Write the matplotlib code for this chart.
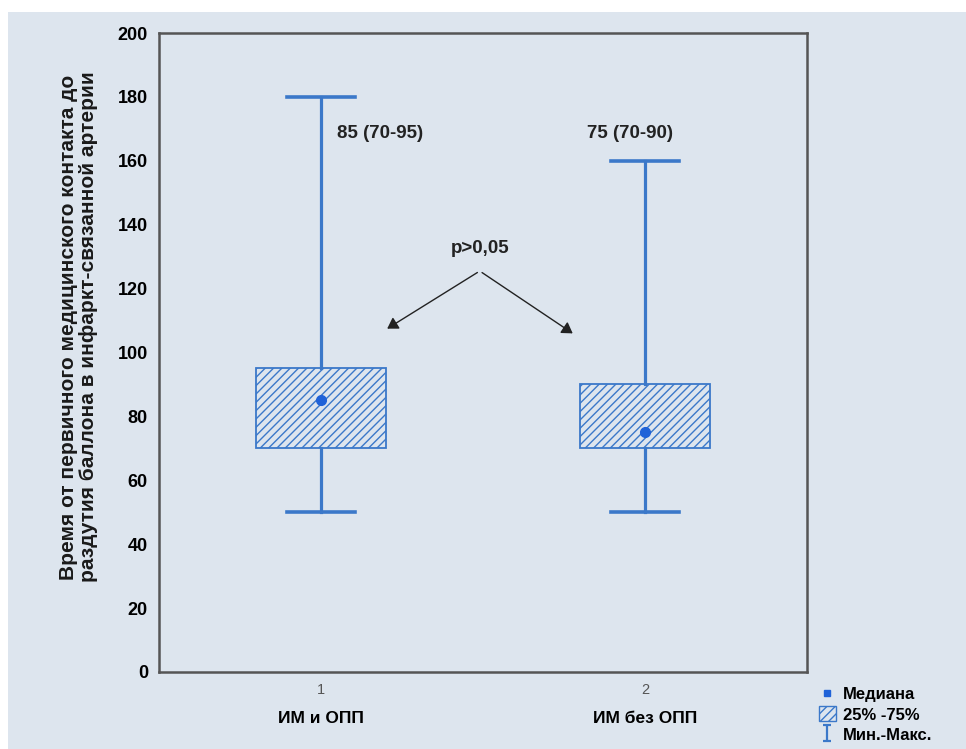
import matplotlib.pyplot as plt
from matplotlib.lines import Line2D
from matplotlib.patches import Patch, Rectangle
from matplotlib.path import Path

plt.rcParams['font.family'] = ['Liberation Sans', 'DejaVu Sans']
plt.rcParams['hatch.linewidth'] = 1.0

groups = ["ИМ и ОПП", "ИМ без ОПП"]
positions = [1, 2]
medians = [85, 75]
q1 = [70, 70]
q3 = [95, 90]
mins = [50, 50]
maxs = [180, 160]
notes = ["85 (70-95)", "75 (70-90)"]

bg = "#dde5ee"
blue = "#3b78c9"
dot = "#1f62d8"

fig = plt.figure(figsize=(9.66, 7.49), dpi=100, facecolor="white")
fig.patches.append(Rectangle((8 / 966, 0), 1, 1 - 12 / 749, transform=fig.transFigure,
                             facecolor=bg, edgecolor="none", zorder=-10))
ax = fig.add_axes([159 / 966, 77 / 749, 648 / 966, 639 / 749])
ax.set_facecolor(bg)

stats = []
for i in range(2):
    stats.append(dict(med=medians[i], q1=q1[i], q3=q3[i],
                      whislo=mins[i], whishi=maxs[i], fliers=[]))

bp = ax.bxp(stats, positions=positions, widths=0.4, capwidths=0.21,
            patch_artist=True, showfliers=False,
            boxprops=dict(facecolor=bg, edgecolor=blue, linewidth=1.3, hatch="////"),
            whiskerprops=dict(color=blue, linewidth=2.3),
            capprops=dict(color=blue, linewidth=2.6),
            medianprops=dict(linewidth=0))
ax.plot(positions, medians, "o", color=dot, markersize=7, zorder=5)

ax.set_xlim(0.5, 2.5)
ax.set_ylim(0, 200)
ax.set_yticks(range(0, 201, 20))
ax.set_xticks(positions)
ax.set_xticklabels(["1", "2"], color="#555555", fontsize=10.5)
ax.tick_params(axis="both", length=0, pad=8)
for lab in ax.get_yticklabels():
    lab.set_fontweight("bold")
    lab.set_fontsize(13)
for sp in ax.spines.values():
    sp.set_color("#555555")
    sp.set_linewidth(1.8)

for x, g in zip(positions, groups):
    ax.text(x, -0.072, g, transform=ax.get_xaxis_transform(), ha="center", va="center",
            fontsize=12.5, fontweight="bold")

ax.set_ylabel("Время от первичного медицинского контакта до\n"
              "раздутия баллона в инфаркт-связанной артерии",
              fontsize=15, fontweight="bold", linespacing=1.1, color="#1a1a1a")
ax.yaxis.set_label_coords(-0.094, 0.54)

ax.text(1.05, 168.7, notes[0], ha="left", va="center", fontsize=13.5, fontweight="bold", color="#222222")
ax.text(1.954, 168.7, notes[1], ha="center", va="center", fontsize=13.5, fontweight="bold", color="#222222")
ax.text(1.49, 132.7, "p>0,05", ha="center", va="center", fontsize=13.5, fontweight="bold", color="#222222")
for xe, ye in [(1.197, 107), (1.784, 105.5)]:
    ax.annotate("", xy=(xe, ye), xytext=(1.49, 125.5),
                arrowprops=dict(arrowstyle="-|>,head_width=0.25", color="#222222", lw=1.0,
                                mutation_scale=16))

ibar = Path([(-0.5, 1), (0.5, 1), (0, 1), (0, -1), (-0.5, -1), (0.5, -1)],
            [Path.MOVETO, Path.LINETO, Path.MOVETO, Path.LINETO, Path.MOVETO, Path.LINETO])
handles = [
    Line2D([], [], marker="s", linestyle="none", color=dot, markersize=5),
    Patch(facecolor=bg, edgecolor=blue, hatch="////", linewidth=1.0),
    Line2D([], [], marker=ibar, linestyle="none", markeredgecolor=blue,
           markerfacecolor="none", markersize=11, markeredgewidth=1.6),
]
fig.legend(handles, ["Медиана", "25% -75%", "Мин.-Макс."], loc="upper left",
           bbox_to_anchor=(819 / 966, 1 - 686 / 749), frameon=False,
           prop=dict(weight="bold", size=12), handlelength=1.0, handleheight=1.0,
           handletextpad=0.45, labelspacing=0.25, borderpad=0, borderaxespad=0)

fig.savefig("out.png", dpi=100, facecolor=fig.get_facecolor())
